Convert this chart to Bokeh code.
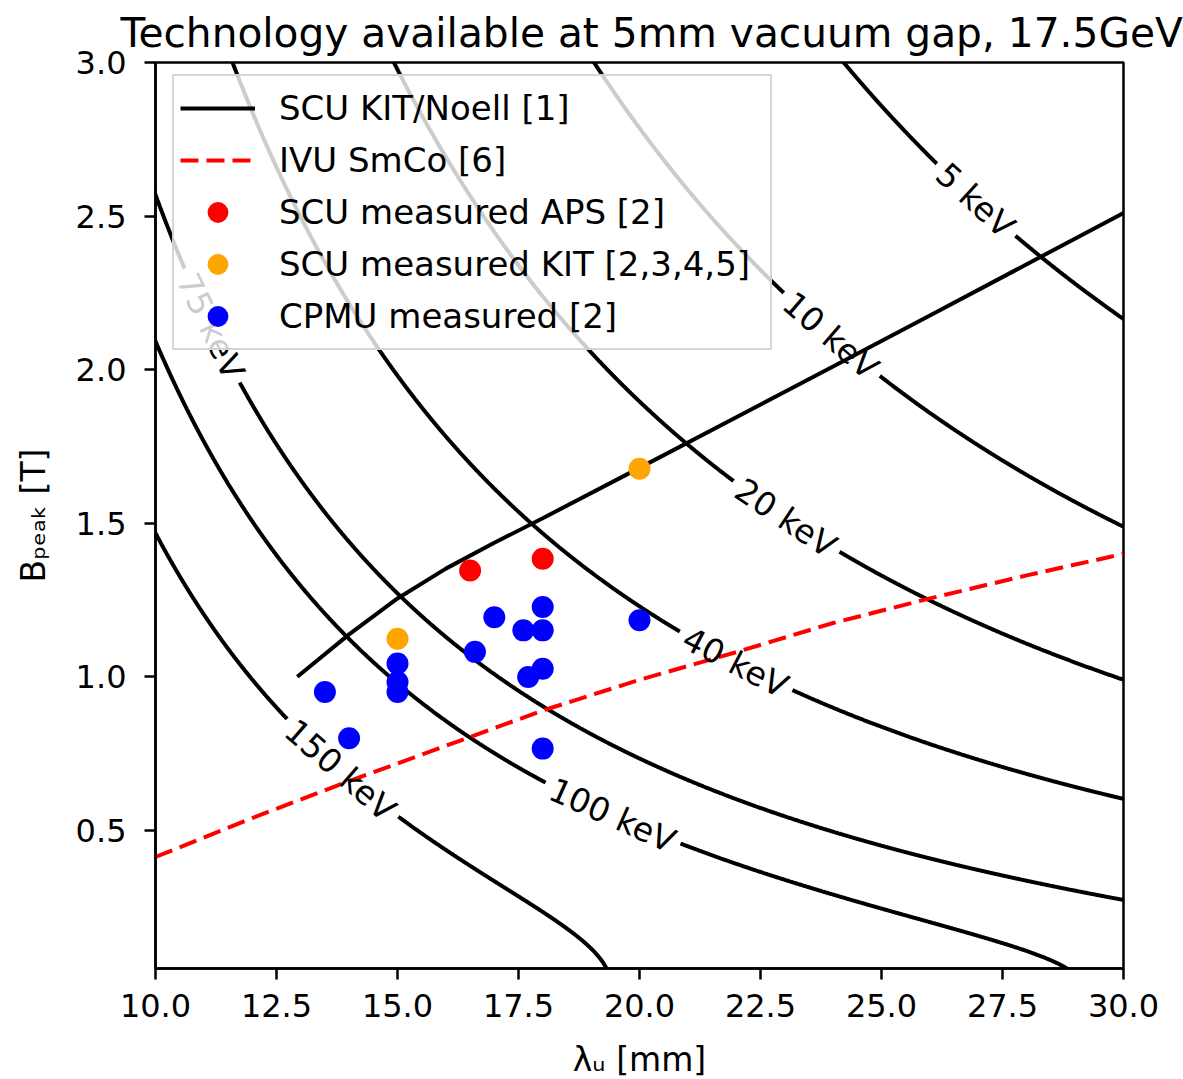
import math
import numpy as np
from bokeh.plotting import figure
from bokeh.models import (Range1d, FixedTicker, PrintfTickFormatter, Label,
                          Legend, LegendItem)
from bokeh.embed import file_html
from bokeh.resources import INLINE

# ---------------------------------------------------------------- data
title_text = "Technology available at 5mm vacuum gap, 17.5GeV"
x_label_text = "λᵤ [mm]"
y_label_text = "Bₚₑₐₖ [T]"
beam_energy_gev = 17.5
contour_levels_kev = [5, 10, 20, 40, 75, 100, 150]
contour_label_texts = ["5 keV", "10 keV", "20 keV", "40 keV", "75 keV", "100 keV", "150 keV"]

scu_kit_lambda_mm = [12.93, 14.0, 15.0, 16.0, 17.0, 18.0, 20.0, 22.0, 24.0, 26.0, 28.0, 30.0]
scu_kit_b_t = [1.00, 1.138, 1.255, 1.352, 1.436, 1.516, 1.68, 1.845, 2.01, 2.176, 2.343, 2.51]

ivu_lambda_mm = [10, 12, 14, 16, 18, 20, 22, 24, 26, 28, 30]
ivu_b_t = [0.413, 0.54, 0.66, 0.775, 0.89, 0.99, 1.08, 1.175, 1.255, 1.33, 1.40]

aps_lambda_mm = [16.5, 18.0]
aps_b_t = [1.346, 1.384]

kit_lambda_mm = [15.0, 20.0]
kit_b_t = [1.124, 1.677]

cpmu_lambda_mm = [13.5, 14.0, 15.0, 15.0, 15.0, 16.6, 17.0, 17.6, 18.0, 18.0, 17.7, 18.0, 18.0, 20.0]
cpmu_b_t = [0.95, 0.80, 1.043, 0.983, 0.95, 1.081, 1.194, 1.151, 1.151, 1.227, 0.999, 1.026, 0.766, 1.184]

x_ticks = [10.0, 12.5, 15.0, 17.5, 20.0, 22.5, 25.0, 27.5, 30.0]
y_ticks = [0.5, 1.0, 1.5, 2.0, 2.5, 3.0]

# ---------------------------------------------------------------- layout / style
X0, X1 = 10.0, 30.0
Y0, Y1 = 0.05, 3.0
FRAME_W, FRAME_H = 968, 906
FONT = "DejaVu Sans"
LINE_W = 4
# where (along lambda, mm) each contour label sits
contour_label_pos_mm = [26.94, 23.95, 23.02, 21.98, 11.14, 19.44, 13.82]
CLABEL_SIZE = 33

K_COEF = 0.934    # K = 0.934 * B[T] * lambda_u[cm]
E1_COEF = 0.950   # E1[keV] = 0.950 * E^2[GeV] / (lambda_u[cm] * (1 + K^2/2))

sx_scale = FRAME_W / (X1 - X0)
sy_scale = FRAME_H / (Y1 - Y0)

char_em = {"0": .636, "1": .636, "2": .636, "3": .636, "4": .636, "5": .636,
           "6": .636, "7": .636, "8": .636, "9": .636, " ": .318, "k": .579,
           "e": .615, "V": .684}


def b_of_lambda(level, lam_mm):
    R = E1_COEF * beam_energy_gev ** 2 / level
    lam = np.asarray(lam_mm, dtype=float) / 10.0
    t = R / lam - 1.0
    return np.where(t > 0, np.sqrt(np.clip(2 * t, 0, None)) / (K_COEF * lam), np.nan)


def contour_points(level):
    R = E1_COEF * beam_energy_gev ** 2 / level
    lam = np.linspace(X0 - 0.5, X1 + 0.5, 1500)
    b1 = b_of_lambda(level, lam)
    ok = np.isfinite(b1)
    lam1, b1 = lam[ok], b1[ok]
    b2 = np.linspace(0.0, Y1 + 0.2, 1500)
    a = (K_COEF * b2) ** 2 / 2.0
    l2 = np.minimum(R, np.cbrt(R / np.maximum(a, 1e-12)))
    for _ in range(80):
        f = a * l2 ** 3 + l2 - R
        l2 = l2 - f / (3 * a * l2 ** 2 + 1)
    L = np.concatenate([lam1, l2 * 10.0])
    B = np.concatenate([b1, b2])
    order = np.argsort(L)
    L, B = L[order], B[order]
    keep = (L >= X0 - 0.5) & (L <= X1 + 0.5) & (B >= Y0 - 0.2) & (B <= Y1 + 0.2)
    return L[keep], B[keep]


p = figure(frame_width=FRAME_W, frame_height=FRAME_H,
           x_range=Range1d(X0, X1), y_range=Range1d(Y0, Y1),
           output_backend="svg", toolbar_location=None,
           min_border_left=155, min_border_right=60,
           min_border_top=62, min_border_bottom=111,
           background_fill_color="white", border_fill_color="white")

# title
p.title.text = title_text
p.title.text_font = FONT
p.title.text_font_size = "40.7px"
p.title.text_font_style = "normal"
p.title.text_color = "black"
p.title.align = "left"
p.title.offset = -35
p.title.standoff = 12

# axes
p.xgrid.visible = False
p.ygrid.visible = False
p.outline_line_color = "black"
p.outline_line_width = 2.5
for ax in (p.xaxis[0], p.yaxis[0]):
    ax.axis_line_width = 2.5
    ax.axis_line_color = "black"
    ax.major_tick_line_width = 2.5
    ax.major_tick_line_color = "black"
    ax.major_tick_out = 11
    ax.major_tick_in = 0
    ax.minor_tick_line_color = None
    ax.major_label_text_font = FONT
    ax.major_label_text_font_size = "32px"
    ax.major_label_text_color = "black"
    ax.formatter = PrintfTickFormatter(format="%.1f")
    ax.axis_label_text_font = FONT
    ax.axis_label_text_font_size = "33px"
    ax.axis_label_text_font_style = "normal"
    ax.axis_label_text_color = "black"
p.xaxis.ticker = FixedTicker(ticks=x_ticks)
p.yaxis.ticker = FixedTicker(ticks=y_ticks)
p.xaxis.major_label_standoff = 14
p.yaxis.major_label_standoff = 18
p.xaxis.axis_label = x_label_text
p.yaxis.axis_label = y_label_text
p.xaxis.axis_label_standoff = 20
p.yaxis.axis_label_standoff = 20

# contours with inline labels
contour_labels = []
for level, txt, lc in zip(contour_levels_kev, contour_label_texts, contour_label_pos_mm):
    L, B = contour_points(level)
    bc = float(b_of_lambda(level, lc))
    db = float(b_of_lambda(level, lc + 0.02) - b_of_lambda(level, lc - 0.02))
    ang = math.atan2(db * sy_scale, 0.04 * sx_scale)
    width_px = sum(char_em.get(ch, .6) for ch in txt) * CLABEL_SIZE
    half_gap = width_px / 2 + 6
    d = np.hypot((L - lc) * sx_scale, (B - bc) * sy_scale)
    Bc = B.copy()
    Bc[d < half_gap] = np.nan
    p.line(L, Bc, line_color="black", line_width=LINE_W)
    contour_labels.append(Label(x=lc, y=bc, text=txt, angle=ang,
                                text_align="center", text_baseline="middle",
                                text_font=FONT, text_font_size=f"{CLABEL_SIZE}px",
                                text_color="black"))

r_ivu = p.line(ivu_lambda_mm, ivu_b_t, line_color="red", line_width=LINE_W,
               line_dash="18 8")
r_scu = p.line(scu_kit_lambda_mm, scu_kit_b_t, line_color="black", line_width=LINE_W)
r_aps = p.scatter(aps_lambda_mm, aps_b_t, size=22, fill_color="red", line_color=None)
r_kit = p.scatter(kit_lambda_mm, kit_b_t, size=22, fill_color="orange", line_color=None)
r_cpmu = p.scatter(cpmu_lambda_mm, cpmu_b_t, size=22, fill_color="blue", line_color=None)

for lab in contour_labels:
    p.add_layout(lab)

legend = Legend(items=[
    LegendItem(label="SCU KIT/Noell [1]", renderers=[r_scu]),
    LegendItem(label="IVU SmCo [6]", renderers=[r_ivu]),
    LegendItem(label="SCU measured APS [2]", renderers=[r_aps]),
    LegendItem(label="SCU measured KIT [2,3,4,5]", renderers=[r_kit]),
    LegendItem(label="CPMU measured [2]", renderers=[r_cpmu]),
], location=(17, 618))
legend.label_text_font = FONT
legend.label_text_font_size = "34px"
legend.label_text_color = "black"
legend.glyph_width = 75
legend.glyph_height = 52
legend.label_height = 52
legend.spacing = 0
legend.padding = 6
legend.margin = 0
legend.label_standoff = 24
legend.label_width = 485
legend.background_fill_color = "white"
legend.background_fill_alpha = 0.8
legend.border_line_color = "#cccccc"
legend.border_line_width = 2
legend.border_line_alpha = 0.8
p.add_layout(legend)

open("out.html", "w").write(file_html(p, INLINE))
